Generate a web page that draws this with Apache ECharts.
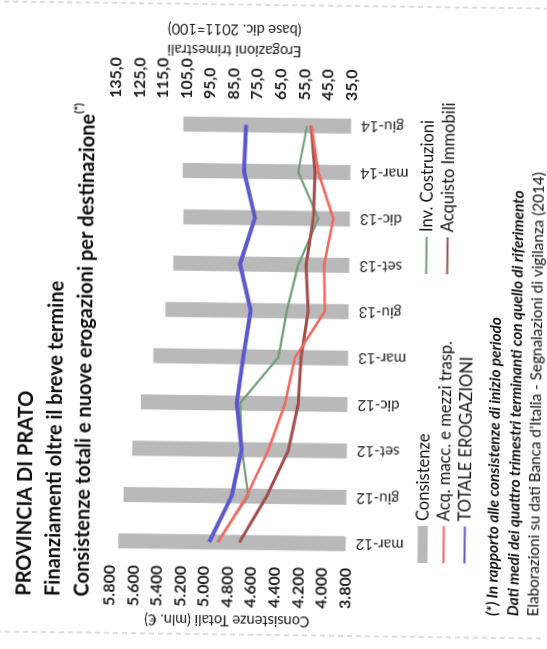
<!DOCTYPE html>
<html><head><meta charset="utf-8">
<script src="https://cdn.jsdelivr.net/npm/echarts@6/dist/echarts.min.js"></script>
<style>
html,body{margin:0;padding:0;background:#fff;width:547px;height:649px;overflow:hidden;}
#chart{position:absolute;left:-51px;top:51px;width:649px;height:547px;transform-origin:50% 50%;transform:rotate(-89.25deg);}
</style></head><body><div id="chart"></div>
<script>
const categories = ['mar-12','giu-12','set-12','dic-12','mar-13','giu-13','set-13','dic-13','mar-14','giu-14'];
const consistenze = [5730,5691,5622,5553,5454,5356,5295,5215,5225,5225];
const acqMacc = [89.1,77.3,68.3,61.5,57.5,45.1,45.7,42.0,48.7,51.8];
const totaleErogazioni = [92.9,83.6,79.7,82.0,79.5,76.6,81.4,75.3,80.2,79.6];
const invCostruzioni = [89.5,76.6,79.5,80.6,64.6,61.3,56.7,48.4,57.2,53.7];
const acquistoImmobili = [80.1,68.8,59.8,55.9,55.0,52.2,53.4,50.5,50.1,52.0];
const rightTicks = [35,45,55,65,75,85,95,105,115,125,135];

const FF = 'Lato, "Open Sans", sans-serif';
const chart = echarts.init(document.getElementById('chart'), null, {renderer:'canvas'});
const fmtLeft = v => String(Math.round(v)).replace(/\B(?=(\d{3})+(?!\d))/g, '.');
const fmtRight = v => v.toFixed(1).replace('.', ',');
const hideSym = {opacity: 0};

chart.setOption({
  animation: false,
  backgroundColor: 'transparent',
  textStyle: {fontFamily: FF},
  title: [
    {
      text: '{a|PROVINCIA DI PRATO}\n{a|Finanziamenti oltre il breve termine}\n{a|Consistenze totali e nuove erogazioni per destinazione}{s|(*)}',
      left: 45, top: 8,
      textStyle: {fontFamily: FF, rich: {
        a: {fontFamily: FF, fontSize: 20, fontWeight: 'bold', color: '#0d0d0d', lineHeight: 29},
        s: {fontFamily: FF, fontSize: 11, fontWeight: 'bold', color: '#0d0d0d', lineHeight: 18, verticalAlign: 'top'}
      }}
    },
    {
      text: '{a|(*) In rapporto alle consistenze di inizio periodo}\n{b|Dati medi dei quattro trimestri terminanti con quello di riferimento}\n{c|Elaborazioni su dati Banca d\'Italia - Segnalazioni di vigilanza (2014)}',
      left: 31, top: 481,
      textStyle: {fontFamily: FF, rich: {
        a: {fontFamily: FF, fontSize: 15.3, fontStyle: 'italic', fontWeight: 'bold', color: '#111', lineHeight: 20.5},
        b: {fontFamily: FF, fontSize: 15.3, fontStyle: 'italic', fontWeight: 'bold', color: '#111', lineHeight: 20.5},
        c: {fontFamily: FF, fontSize: 15.3, fontWeight: 'normal', color: '#111', lineHeight: 20.5}
      }}
    }
  ],
  legend: [
    {
      data: [{name:'Consistenze', icon:'rect'},
             {name:'Acq. macc. e mezzi trasp.', itemStyle: hideSym},
             {name:'TOTALE EROGAZIONI', itemStyle: hideSym}],
      orient: 'vertical', left: 82, top: 412, itemWidth: 37, itemHeight: 10, itemGap: 4,
      textStyle: {fontFamily: FF, fontSize: 16.5, color: '#111'}
    },
    {
      data: [{name:'Inv. Costruzioni', itemStyle: hideSym}, {name:'Acquisto Immobili', itemStyle: hideSym}],
      orient: 'vertical', left: 371, top: 412, itemWidth: 37, itemHeight: 10, itemGap: 4,
      textStyle: {fontFamily: FF, fontSize: 16.5, color: '#111'}
    }
  ],
  grid: {left: 83, right: 102, top: 113, bottom: 198.5, containLabel: false},
  xAxis: {
    type: 'category', data: categories,
    axisLine: {show: false}, axisTick: {show: false},
    axisLabel: {rotate: 90, margin: 10, fontSize: 15, color: '#222', fontFamily: FF}
  },
  yAxis: [
    {
      type: 'value', min: 3800, max: 5800, interval: 200,
      axisLine: {show: false}, axisTick: {show: false}, splitLine: {show: false},
      axisLabel: {formatter: fmtLeft, fontSize: 16, fontWeight: 'bold', color: '#222', margin: 1, fontFamily: FF},
      name: 'Consistenze Totali (mln. €)', nameLocation: 'middle', nameGap: 47.5, nameMoveOverlap: false,
      nameTextStyle: {fontSize: 14.5, color: '#222', fontFamily: FF}
    },
    {
      type: 'value', min: 35, max: 135, position: 'right',
      axisLine: {show: false}, axisTick: {show: false}, splitLine: {show: false},
      axisLabel: {customValues: rightTicks, formatter: fmtRight, fontSize: 16, fontWeight: 'bold', color: '#222', margin: 2, fontFamily: FF},
      name: 'Erogazioni trimestrali\n(base dic. 2011=100)', nameLocation: 'middle', nameGap: 40.5, nameMoveOverlap: false,
      nameTextStyle: {fontSize: 14.5, color: '#222', lineHeight: 21, fontFamily: FF}
    }
  ],
  series: [
    {name: 'Consistenze', type: 'bar', yAxisIndex: 0, data: consistenze, barWidth: 15,
     itemStyle: {color: '#b9b9b9'}},
    {name: 'Inv. Costruzioni', type: 'line', yAxisIndex: 1, data: invCostruzioni, symbol: 'none',
     lineStyle: {color: '#6f9d78', width: 2.2}, itemStyle: {color: '#6f9d78'}},
    {name: 'Acquisto Immobili', type: 'line', yAxisIndex: 1, data: acquistoImmobili, symbol: 'none',
     lineStyle: {color: '#a24c4c', width: 3}, itemStyle: {color: '#a24c4c'}},
    {name: 'Acq. macc. e mezzi trasp.', type: 'line', yAxisIndex: 1, data: acqMacc, symbol: 'none',
     lineStyle: {color: '#ef6862', width: 2.6}, itemStyle: {color: '#ef6862'}},
    {name: 'TOTALE EROGAZIONI', type: 'line', yAxisIndex: 1, data: totaleErogazioni, symbol: 'none',
     lineStyle: {color: '#5c58cc', width: 4}, itemStyle: {color: '#5c58cc'}}
  ],
  graphic: [
    {type: 'line', shape: {x1: 14, y1: 0, x2: 14, y2: 547}, style: {stroke: '#bbb', lineWidth: 1, lineDash: [5, 4]}, silent: true},
    {type: 'line', shape: {x1: 644, y1: 0, x2: 644, y2: 547}, style: {stroke: '#bbb', lineWidth: 1, lineDash: [5, 4]}, silent: true}
  ]
});
</script></body></html>
